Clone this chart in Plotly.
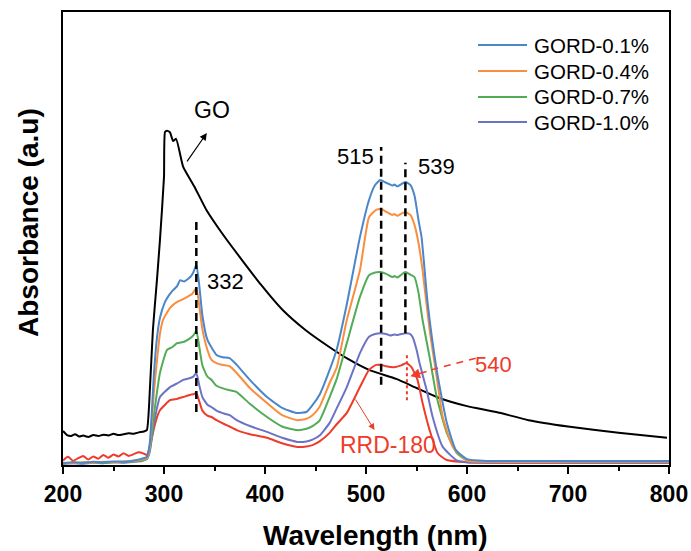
import plotly.graph_objects as go

# ---------------- data ----------------
go_wl = [200, 204, 208, 212, 216, 220, 225, 230, 235, 240, 245, 250, 255, 260, 265, 270, 275, 280, 283,
         286, 289, 293, 296, 300, 301, 303, 306, 309, 312, 319, 330, 342, 358, 375, 396, 417.5, 440, 464,
         483, 503, 530, 550, 572.5, 600, 629, 661, 700, 750, 798]
go_abs = [7.5, 6.6, 6.4, 6.8, 6.3, 6.5, 6.2, 6.6, 6.4, 6.7, 6.5, 6.9, 6.6, 6.8, 7.0, 6.9, 7.2, 7.4, 7.7,
          16.6, 29.8, 40.8, 49.7, 63.6, 73.5, 73.8, 73.4, 71.5, 72.0, 65.8, 61.5, 56.3, 51.0, 45.9, 39.8, 34.2, 29.8, 26.0,
          23.3, 21.0, 19.0, 17.0, 14.8, 13.0, 11.7, 9.9, 8.5, 7.1, 6.0]

b_wl = [200, 210, 220, 230, 240, 250, 260, 270, 278, 283, 286, 288, 290, 293, 296, 301, 305, 309, 313, 316,
        320, 326, 329, 332, 335, 338, 343, 352, 358, 365, 372, 385, 402, 417, 431, 441, 447, 454, 464, 471,
        481, 494, 503, 509, 514, 520, 526, 528, 531, 535, 539, 544, 548, 552, 555, 561, 570, 580, 589, 600,
        620, 700, 800]
b_abs = [0.4, 0.6, 0.5, 0.7, 0.6, 0.8, 0.7, 1.0, 1.4, 1.8, 5, 12, 20, 28, 32.5, 36.0, 37.5, 38.6, 39.5, 40.8,
         40.5, 41.5, 42.5, 44.2, 39.5, 33, 27.6, 24.3, 23.8, 23.6, 22.1, 18.8, 15.0, 12.6, 11.5, 11.7, 13.2, 15.5, 21.0, 25.5,
         35.5, 50.3, 58.5, 61.8, 62.9, 62.3, 61.7, 61.9, 61.5, 62.0, 62.5, 61.8, 59.5, 54, 50.3, 35.8, 21.0, 9.3, 3.3, 1.3,
         0.9, 0.9, 0.9]

o_wl = [200, 210, 220, 230, 240, 250, 260, 270, 278, 283, 286, 288, 290, 293, 296, 299, 306, 313, 318, 323,
        328, 332, 335, 338, 343, 347, 352, 360, 365, 372, 385, 402, 417, 432, 441, 447, 454, 464, 471, 481,
        494, 503, 510, 515, 520, 526, 528, 531, 535, 539, 544, 548, 552, 556, 563, 570, 576, 586, 600, 620,
        700, 800]
o_abs = [0.5, 0.4, 0.6, 0.5, 0.7, 0.6, 0.8, 0.9, 1.2, 1.5, 4, 10, 16, 23, 29, 32.0, 34.7, 36.0, 36.5, 37.1,
         37.8, 39.1, 35, 30, 25.4, 23.2, 22.5, 22.0, 21.8, 20.3, 17.0, 13.7, 11.0, 9.9, 10.2, 11.0, 12.8, 18.1, 21.5, 32.0,
         43.0, 54.7, 56.3, 56.5, 55.9, 55.2, 55.4, 55.0, 55.5, 55.8, 55.2, 53, 49, 43.0, 29.8, 19.4, 10.6, 4.0, 1.0, 0.7,
         0.7, 0.7]

g_wl = [200, 210, 220, 230, 240, 250, 260, 270, 278, 283, 286, 288, 290, 293, 296, 303, 308, 313, 320, 326,
        329, 332, 335, 338, 343, 347, 352, 360, 365, 372, 385, 402, 417, 432, 441, 447, 454, 464, 471, 481,
        494, 503, 509, 514, 520, 526, 528, 531, 535, 539, 544, 548, 552, 556, 563, 570, 580, 590, 600, 620,
        700, 800]
g_abs = [0.3, 0.5, 0.4, 0.6, 0.5, 0.6, 0.7, 0.8, 1.0, 1.3, 3.5, 7, 11, 16, 20.3, 25.4, 26.0, 26.9, 27.2, 28.0,
         28.6, 29.6, 26, 22, 19.5, 18.8, 17.5, 16.8, 16.5, 16.1, 13.5, 10.6, 8.5, 7.7, 8.0, 8.6, 9.8, 15.0, 19, 26.9,
         37.1, 41.9, 42.5, 42.6, 42.2, 41.5, 41.7, 41.4, 42.0, 42.6, 42.0, 41.5, 38, 32.0, 23.8, 15.0, 7.1, 2.6, 1.0, 0.8,
         0.8, 0.8]

p_wl = [200, 210, 220, 230, 240, 250, 260, 270, 278, 283, 286, 288, 290, 293, 296, 306, 313, 319, 326, 329,
        332, 335, 338, 343, 347, 352, 360, 365, 372, 385, 402, 417, 432, 441, 447, 454, 464, 471, 481, 494,
        503, 509, 514, 520, 524, 528, 531, 535, 539, 543, 546, 550, 553, 560, 566, 576, 590, 600, 620, 700, 800]
p_abs = [0.3, 0.4, 0.3, 0.5, 0.4, 0.6, 0.5, 0.7, 0.9, 1.3, 3, 6, 9, 12.5, 15, 17.2, 18.0, 18.8, 19.2, 19.5,
         20.3, 17.5, 15, 13.3, 12.8, 12.0, 11.3, 11.0, 9.9, 8.6, 7.3, 6.0, 5.1, 5.2, 5.6, 6.5, 9.3, 12.5, 17.2, 24.7,
         28.3, 28.9, 29.1, 28.9, 28.6, 28.8, 28.7, 28.9, 29.1, 29.0, 28.3, 25.5, 22.5, 16.6, 10.6, 4.0, 1.0, 0.6, 0.5, 0.5, 0.5]

r_wl = [200, 205, 210, 215, 220, 225, 230, 235, 240, 245, 250, 255, 260, 265, 270, 275, 280, 283, 286, 288,
        290, 293, 296, 306, 313, 319, 326, 329, 332, 335, 338, 343, 347, 352, 360, 365, 372, 385, 402, 417,
        432, 441, 447, 454, 464, 471, 481, 494, 503, 510, 515, 520, 528, 535, 540, 545, 551, 556, 563, 571,
        580, 600, 620, 700, 800]
r_abs = [1.0, 1.8, 0.9, 1.5, 2.0, 1.2, 1.9, 1.4, 2.2, 1.6, 2.3, 1.9, 2.6, 2.0, 2.4, 2.8, 2.5, 2.2, 4, 6,
         8, 10.5, 12.1, 14.3, 14.6, 15.0, 15.5, 15.6, 15.9, 14.0, 12.0, 10.9, 10.6, 9.9, 9.0, 8.5, 7.7, 6.8, 6.0, 4.8,
         4.0, 4.1, 4.4, 5.2, 7.1, 9.0, 11.5, 17.2, 21.0, 22.1, 22.1, 21.8, 21.6, 22.0, 22.5, 21.6, 18.8, 13.7, 7.7, 2.6,
         1.1, 0.6, 0.5, 0.5, 0.5]

legend_names = ["GORD-0.1%", "GORD-0.4%", "GORD-0.7%", "GORD-1.0%"]
x_ticks = [200, 300, 400, 500, 600, 700, 800]

# peak markers: wavelength, top, bottom
peak_lines = [(332, 54.5, 11.7), (515, 70.2, 17.7), (539, 66.7, 29.1)]
red_peak = (540.5, 24.7, 14.3)

# ---------------- styling ----------------
FONT = "Liberation Sans, Arial, sans-serif"
colors = ["#4A86C8", "#F98E3F", "#52AC57", "#6C73C4"]
RED = "#EE3B2A"
ML, MR, MT, MB = 63, 22, 12, 86
W, H = 691, 551
PW, PH = W - ML - MR, H - MT - MB


def px_x(px):
    return (px - ML) / PW


def px_y(py):
    return (H - MB - py) / PH


fig = go.Figure()
fig.add_trace(go.Scatter(x=go_wl, y=go_abs, mode="lines", line=dict(color="black", width=2, shape="spline", smoothing=0.5),
                         showlegend=False))
fig.add_trace(go.Scatter(x=r_wl, y=r_abs, mode="lines", line=dict(color=RED, width=2, shape="spline", smoothing=0.5),
                         showlegend=False))
for wl, ab, name, c in [(p_wl, p_abs, legend_names[3], colors[3]),
                        (g_wl, g_abs, legend_names[2], colors[2]),
                        (o_wl, o_abs, legend_names[1], colors[1]),
                        (b_wl, b_abs, legend_names[0], colors[0])]:
    fig.add_trace(go.Scatter(x=wl, y=ab, mode="lines", name=name, showlegend=False,
                             line=dict(color=c, width=2, shape="spline", smoothing=0.5)))

# legend (drawn manually to match spacing)
leg_rows = [45, 71, 97, 122]
for name, c, py in zip(legend_names, colors, leg_rows):
    fig.add_shape(type="line", xref="paper", yref="paper", x0=px_x(478), x1=px_x(527),
                  y0=px_y(py), y1=px_y(py), line=dict(color=c, width=2))
    fig.add_annotation(xref="paper", yref="paper", x=px_x(532), y=px_y(py), text=name,
                       xanchor="left", yanchor="middle", showarrow=False,
                       font=dict(family=FONT, size=20.5, color="black"))

# dashed peak lines
for x0, y1, y0 in peak_lines:
    fig.add_shape(type="line", x0=x0, x1=x0, y0=y0, y1=y1, xref="x", yref="y",
                  line=dict(color="black", width=2.5, dash="8px,5px"))
fig.add_shape(type="line", x0=red_peak[0], x1=red_peak[0], y0=red_peak[2], y1=red_peak[1],
              xref="x", yref="y", line=dict(color=RED, width=2, dash="dot"))
# dashed leader to "540"
fig.add_shape(type="line", x0=564.6, y0=21.0, x1=609, y1=23.6, xref="x", yref="y",
              line=dict(color=RED, width=1.5, dash="7px,6px"))

txt = dict(family=FONT, size=22, color="black")
fig.add_annotation(x=347.5, y=78.4, text="GO", showarrow=False, font=dict(family=FONT, size=23, color="black"))
fig.add_annotation(x=342.4, y=73.3, ax=321.8, ay=66.7, xref="x", yref="y", axref="x", ayref="y",
                   text="", showarrow=True, arrowhead=2, arrowsize=1.2, arrowwidth=1.2, arrowcolor="black")
fig.add_annotation(x=361.2, y=40.4, text="332", showarrow=False, font=txt)
fig.add_annotation(x=489.6, y=68.0, text="515", showarrow=False, font=txt)
fig.add_annotation(x=569.5, y=66.0, text="539", showarrow=False, font=txt)
fig.add_annotation(x=626.7, y=22.1, text="540", showarrow=False, font=dict(family=FONT, size=22, color=RED))
fig.add_annotation(x=522, y=4.4, text="RRD-180", showarrow=False, font=dict(family=FONT, size=23, color=RED))
fig.add_annotation(x=543.8, y=19.6, ax=561.4, ay=20.75, xref="x", yref="y", axref="x", ayref="y",
                   text="", showarrow=True, arrowhead=2, arrowsize=1.3, arrowwidth=1.5, arrowcolor=RED)
fig.add_annotation(x=508.4, y=7.7, ax=488.7, ay=14.8, xref="x", yref="y", axref="x", ayref="y",
                   text="", showarrow=True, arrowhead=2, arrowsize=1.3, arrowwidth=1.0, arrowcolor=RED)

# axis titles
fig.add_annotation(xref="paper", yref="paper", x=px_x(375), y=px_y(535), text="Wavelength (nm)",
                   showarrow=False, xanchor="center", yanchor="middle",
                   font=dict(family=FONT, size=28, weight="bold", color="black"))
fig.add_annotation(xref="paper", yref="paper", x=px_x(28), y=px_y(223), text="Absorbance (a.u)",
                   showarrow=False, xanchor="center", yanchor="middle", textangle=-90,
                   font=dict(family=FONT, size=28, weight="bold", color="black"))

fig.update_layout(
    width=W, height=H,
    margin=dict(l=ML, r=MR, t=MT, b=MB),
    paper_bgcolor="white", plot_bgcolor="white",
    font=dict(family=FONT, color="black"),
    showlegend=False,
    xaxis=dict(range=[200, 800], tickvals=x_ticks, showline=True, linecolor="black", linewidth=2,
               mirror=True, ticks="outside", ticklen=7, tickwidth=2, tickcolor="black",
               minor=dict(dtick=50, ticks="outside", ticklen=4, tickwidth=2, tickcolor="black"),
               showgrid=False, zeroline=False, automargin=False,
               tickfont=dict(family=FONT, size=23, weight="bold", color="black")),
    yaxis=dict(range=[0, 100], showline=True, linecolor="black", linewidth=2, mirror=True,
               showticklabels=False, ticks="", showgrid=False, zeroline=False, automargin=False),
)

fig.write_html("out.html")
